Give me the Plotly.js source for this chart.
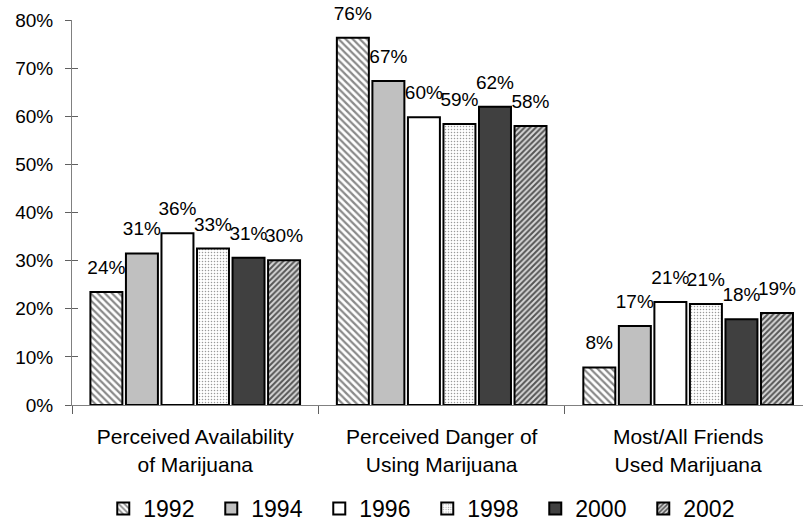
<!DOCTYPE html>
<html>
<head>
<meta charset="utf-8">
<script src="https://cdn.plot.ly/plotly-3.0.1.min.js"></script>
<style>
  html, body { margin: 0; padding: 0; background: #fff; overflow: hidden; }
  #chart { width: 803px; height: 523px; overflow: hidden; }
</style>
</head>
<body>
<div id="chart"></div>
<script>
// categories (x axis)
var categories = [
  'Perceived Availability<br>of Marijuana',
  'Perceived Danger of<br>Using Marijuana',
  'Most/All Friends<br>Used Marijuana'
];

// years (one series each)
var years = ['1992', '1994', '1996', '1998', '2000', '2002'];

// bar heights (percent)
var y1992 = [23.5, 76.3, 7.8];
var y1994 = [31.5, 67.3, 16.4];
var y1996 = [35.7, 59.8, 21.4];
var y1998 = [32.5, 58.4, 21.0];
var y2000 = [30.6, 62.0, 17.8];
var y2002 = [30.1, 58.0, 19.1];

// data labels as printed
var lab1992 = ['24%', '76%', '8%'];
var lab1994 = ['31%', '67%', '17%'];
var lab1996 = ['36%', '60%', '21%'];
var lab1998 = ['33%', '59%', '21%'];
var lab2000 = ['31%', '62%', '18%'];
var lab2002 = ['30%', '58%', '19%'];

// y axis ticks
var yTickVals = [0, 10, 20, 30, 40, 50, 60, 70, 80];
var yTickText = ['0%', '10%', '20%', '30%', '40%', '50%', '60%', '70%', '80%'];

var values = [y1992, y1994, y1996, y1998, y2000, y2002];
var labels = [lab1992, lab1994, lab1996, lab1998, lab2000, lab2002];

// fills per year
var fills = [
  {color: '#ffffff', pattern: {shape: '\\', fgcolor: '#8a8a8a', bgcolor: '#ffffff', size: 5, solidity: 0.45, fillmode: 'replace'}},
  {color: '#c0c0c0'},
  {color: '#ffffff'},
  {color: '#ffffff', pattern: {shape: '.', fgcolor: '#9a9a9a', bgcolor: '#ffffff', size: 3, solidity: 0.2, fillmode: 'replace'}},
  {color: '#404040'},
  {color: '#ffffff', pattern: {shape: '/', fgcolor: '#555555', bgcolor: '#d8d8d8', size: 4, solidity: 0.5, fillmode: 'replace'}}
];

var font = 'Liberation Sans, Arial, sans-serif';

var traces = [];
for (var i = 0; i < years.length; i++) {
  var marker = {color: fills[i].color, line: {color: '#000000', width: 2}};
  if (fills[i].pattern) marker.pattern = fills[i].pattern;
  traces.push({
    type: 'bar',
    name: years[i],
    x: categories,
    y: values[i],
    // small trailing line lifts the label off the bar top
    text: labels[i].map(function (t) {
      return '<span style="font-size:19px">' + t + '</span><br>\u00a0';
    }),
    textposition: 'outside',
    textfont: {family: font, size: 10, color: '#000000'},
    constraintext: 'none',
    cliponaxis: false,
    hoverinfo: 'skip',
    marker: marker
  });
}

// empty trace so the overlay axis (inner half of the y ticks) gets drawn
traces.push({
  type: 'scatter', x: [], y: [], yaxis: 'y2',
  showlegend: false, hoverinfo: 'skip'
});

// figure is a bit taller than the window; the blank bottom is cut off
var layout = {
  width: 803,
  height: 540,
  margin: {l: 72, r: 0, t: 20, b: 135},
  paper_bgcolor: '#ffffff',
  plot_bgcolor: '#ffffff',
  font: {family: font, color: '#000000'},
  barmode: 'group',
  bargap: 0.135,
  bargroupgap: 0.1,
  showlegend: true,
  legend: {
    orientation: 'h',
    x: 0.486,
    xanchor: 'center',
    y: -0.213,
    yanchor: 'top',
    font: {family: font, size: 23, color: '#000000'},
    entrywidth: 63,
    entrywidthmode: 'pixels',
    traceorder: 'normal'
  },
  xaxis: {
    type: 'category',
    range: [-0.5, 2.466],
    showline: true,
    linecolor: '#808080',
    linewidth: 1,
    ticks: 'outside',
    tickson: 'boundaries',
    ticklen: 8,
    tickcolor: '#606060',
    tickfont: {family: font, size: 21, color: '#000000'},
    ticklabelstandoff: 13,
    showgrid: false,
    zeroline: false,
    fixedrange: true
  },
  yaxis: {
    range: [0, 80],
    tickmode: 'array',
    tickvals: yTickVals,
    ticktext: yTickText,
    showline: true,
    linecolor: '#808080',
    linewidth: 1,
    ticks: 'outside',
    ticklen: 6,
    tickcolor: '#606060',
    tickfont: {family: font, size: 19, color: '#000000'},
    ticklabelstandoff: 8,
    showgrid: false,
    zeroline: false,
    fixedrange: true
  },
  yaxis2: {
    overlaying: 'y',
    side: 'left',
    range: [0, 80],
    tickmode: 'array',
    tickvals: yTickVals,
    ticks: 'inside',
    ticklen: 6,
    tickcolor: '#606060',
    showticklabels: false,
    showline: false,
    showgrid: false,
    zeroline: false,
    fixedrange: true
  }
};

Plotly.newPlot('chart', traces, layout, {displayModeBar: false, staticPlot: true});
</script>
</body>
</html>
